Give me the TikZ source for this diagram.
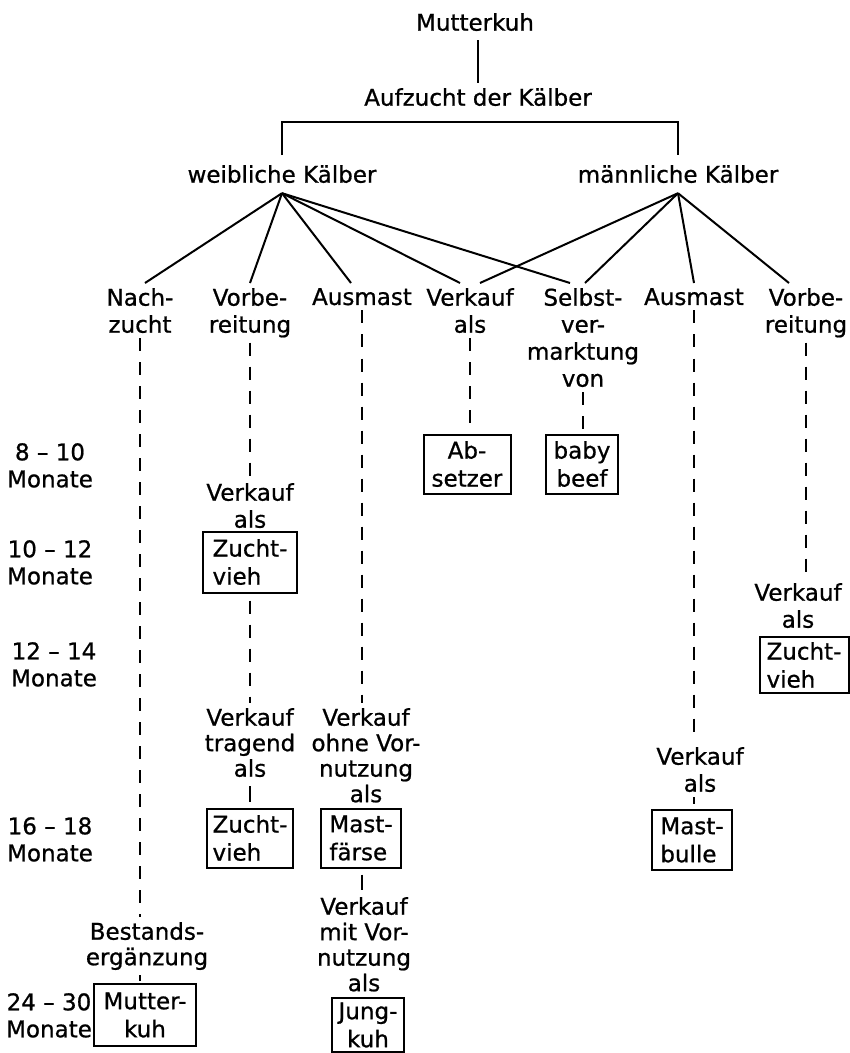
\documentclass[tikz,border=0pt]{standalone}
\usepackage{fontspec}
\setmainfont{DejaVu Sans}[FakeBold=0.8]
\begin{document}
\begin{tikzpicture}[x=1pt,y=-1pt,
  lbl/.style={font=\fontsize{23}{27}\selectfont, align=center, inner xsep=0pt, inner ysep=5pt, anchor=north},
  tight/.style={font=\fontsize{23}{25.5}\selectfont},
  box/.style={draw, line width=2pt, font=\fontsize{23}{28}\selectfont, align=center, inner sep=0pt, minimum height=59pt},
  boxl/.style={box, align=left},
  conn/.style={line width=2pt},
  dsh/.style={conn, dash pattern=on 13pt off 11pt}]
\useasboundingbox (0,0) rectangle (850,1053);

% top levels
\node[lbl, inner ysep=9pt] (mk) at (475,4) {Mutterkuh};
\node[lbl] (auf) at (478,83) {Aufzucht der Kälber};
\node[lbl, inner ysep=10pt] (wk) at (282,155) {weibliche Kälber};
\node[lbl, inner ysep=10pt] (mkb) at (678,155) {männliche Kälber};

% branches
\node[lbl] (nach) at (140,283) {Nach-\\zucht};
\node[lbl] (vorb1) at (250,283) {Vorbe-\\reitung};
\node[lbl] (ausm1) at (362,283) {Ausmast};
\node[lbl] (verk1) at (470,283) {Verkauf\\als};
\node[lbl] (selb) at (583,283) {Selbst-\\ver-\\marktung\\von};
\node[lbl] (ausm2) at (694,283) {Ausmast};
\node[lbl] (vorb2) at (806,283) {Vorbe-\\reitung};

% time labels
\node[lbl] (t1) at (50,438) {8 – 10\\Monate};
\node[lbl] (t2) at (50,535) {10 – 12\\Monate};
\node[lbl] (t3) at (54,637) {12 – 14\\Monate};
\node[lbl] (t4) at (50,812) {16 – 18\\Monate};
\node[lbl] (t5) at (49,988) {24 – 30\\Monate};

% intermediate texts
\node[lbl] (vk2) at (250,478) {Verkauf\\als};
\node[lbl, tight] (vk3) at (250,703) {Verkauf\\tragend\\als};
\node[lbl, tight] (vk4) at (366,703) {Verkauf\\ohne Vor-\\nutzung\\als};
\node[lbl, tight] (vk5) at (364,892) {Verkauf\\mit Vor-\\nutzung\\als};
\node[lbl] (vk6) at (700,742) {Verkauf\\als};
\node[lbl] (vk7) at (798,578) {Verkauf\\als};
\node[lbl, tight] (best) at (147,917) {Bestands-\\ergänzung};

% boxes
\node[box, minimum width=87pt] (abs) at (467,464) {Ab-\\setzer};
\node[box, minimum width=72pt] (bb) at (582,464) {baby\\beef};
\node[boxl, minimum width=94pt, minimum height=61pt] (zv1) at (250,562) {Zucht-\\vieh};
\node[boxl, minimum width=86pt] (zv2) at (250,838) {Zucht-\\vieh};
\node[boxl, minimum width=80pt] (mastf) at (361,838) {Mast-\\färse};
\node[boxl, minimum width=80pt, minimum height=60pt] (mastb) at (692,840) {Mast-\\bulle};
\node[boxl, minimum width=89pt, minimum height=56pt] (zv3) at (804,665) {Zucht-\\vieh};
\node[box, minimum width=102pt, minimum height=62pt] (mkbox) at (145,1015) {Mutter-\\kuh};
\node[box, minimum width=72pt, minimum height=54pt] (jung) at (368,1025) {Jung-\\kuh};

% solid structure
\draw[conn] (mk.south -| auf.north) -- (auf.north);
\draw[conn] (wk.north) -- ++(0,-33) -| (mkb.north);

\draw[conn] (wk.south) -- ([xshift=5pt]nach.north);
\draw[conn] (wk.south) -- (vorb1.north);
\draw[conn] (wk.south) -- ([xshift=-11pt]ausm1.north);
\draw[conn] (wk.south) -- ([xshift=-10pt]verk1.north);
\draw[conn] (wk.south) -- ([xshift=-13pt]selb.north);

\draw[conn] (mkb.south) -- ([xshift=10pt]verk1.north);
\draw[conn] (mkb.south) -- ([xshift=2pt]selb.north);
\draw[conn] (mkb.south) -- (ausm2.north);
\draw[conn] (mkb.south) -- ([xshift=-17pt]vorb2.north);

% dashed columns
\draw[dsh] (nach.south) -- (nach.south |- best.north);
\draw[conn, shorten >=2pt] (best.south -| nach.south) -- (nach.south |- mkbox.north);

\draw[dsh] (vorb1.south) -- (vorb1.south |- vk2.north);
\draw[dsh, shorten <=7pt] (zv1.south) -- (zv1.south |- vk3.north);
\draw[conn, shorten <=4pt, shorten >=6pt] (vk3.south) -- (vk3.south |- zv2.north);

\draw[dsh] (ausm1.south) -- (ausm1.south |- vk4.north);
\draw[conn, shorten <=6pt, shorten >=2pt] (mastf.south -| ausm1.south) -- (ausm1.south |- vk5.north);

\draw[dsh] (verk1.south) -- (verk1.south |- abs.north);
\draw[dsh] (selb.south) -- (selb.south |- bb.north);

\draw[dsh] (ausm2.south) -- (ausm2.south |- vk6.north);
\draw[conn, shorten >=5pt] (vk6.south -| ausm2.south) -- (ausm2.south |- mastb.north);

\draw[dsh] (vorb2.south) -- (vorb2.south |- vk7.north);
\end{tikzpicture}
\end{document}
